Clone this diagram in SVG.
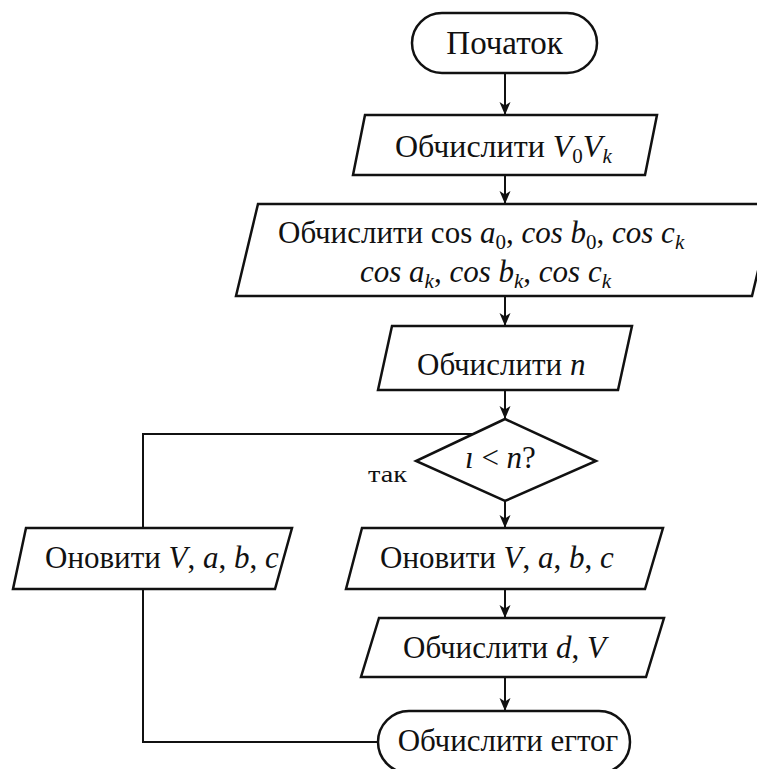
<svg xmlns="http://www.w3.org/2000/svg" width="757" height="769" viewBox="0 0 757 769">
<style>
.shape{fill:#fff;stroke:#111;stroke-width:2.5;stroke-linejoin:miter}
.t{font-family:"Liberation Serif","DejaVu Serif",serif;font-size:31px;fill:#111}
.i{font-style:italic}
.sub{font-size:21px}
.line{fill:none;stroke:#111;stroke-width:2}
</style>
<defs>
<marker id="arr" markerUnits="userSpaceOnUse" markerWidth="14" markerHeight="12" refX="13" refY="6" orient="auto">
<path d="M0,0.5 L13,6 L0,11.5 L3.5,6 z" fill="#111"/>
</marker>
</defs>
<rect width="757" height="769" fill="#fff"/>
<g id="connectors">
<line class="line" x1="505" y1="73" x2="505" y2="115" marker-end="url(#arr)"/>
<line class="line" x1="505" y1="175" x2="505" y2="204" marker-end="url(#arr)"/>
<line class="line" x1="505" y1="296" x2="505" y2="326" marker-end="url(#arr)"/>
<line class="line" x1="505" y1="390" x2="505" y2="419" marker-end="url(#arr)"/>
<line class="line" x1="505" y1="501" x2="505" y2="528" marker-end="url(#arr)"/>
<line class="line" x1="505" y1="589" x2="505" y2="618" marker-end="url(#arr)"/>
<line class="line" x1="505" y1="677" x2="505" y2="711" marker-end="url(#arr)"/>
<polyline class="line" points="378,742 143,742 143,589"/>
<polyline class="line" points="143,528 143,434 472,434"/>
<text class="t" x="368" y="482" textLength="39" lengthAdjust="spacingAndGlyphs" style="font-size:24px">так</text>
</g>
<g id="start">
<rect class="shape" x="412" y="13" width="185" height="60" rx="30" ry="30"/>
<text class="t" x="504.5" y="54" text-anchor="middle" style="font-size:33px">Початок</text>
</g>
<g id="calc-v0vk">
<polygon class="shape" points="365,115 657,115 645,175 353,175"/>
<text class="t" x="395" y="157" style="font-size:32px">Обчислити <tspan class="i">V</tspan><tspan class="sub" dy="6">0</tspan><tspan class="i" dy="-6">V</tspan><tspan class="sub i" dy="6">k</tspan></text>
</g>
<g id="calc-cos">
<polygon class="shape" points="258,204 774,204 752,296 236,296"/>
<text class="t" x="278" y="243">Обчислити cos <tspan class="i">a</tspan><tspan class="sub" dy="6">0</tspan><tspan dy="-6">, </tspan><tspan class="i">cos b</tspan><tspan class="sub" dy="6">0</tspan><tspan dy="-6">, </tspan><tspan class="i">cos c</tspan><tspan class="sub i" dy="6">k</tspan></text>
<text class="t" x="360" y="282"><tspan class="i">cos a</tspan><tspan class="sub i" dy="6">k</tspan><tspan dy="-6">, </tspan><tspan class="i">cos b</tspan><tspan class="sub i" dy="6">k</tspan><tspan dy="-6">, </tspan><tspan class="i">cos c</tspan><tspan class="sub i" dy="6">k</tspan></text>
</g>
<g id="calc-n">
<polygon class="shape" points="392,326 632,326 618,390 378,390"/>
<text class="t" x="417" y="375">Обчислити <tspan class="i">n</tspan></text>
</g>
<g id="decision">
<polygon class="shape" points="505,419 596,461 505,501 416,461"/>
<text class="t" x="465" y="468"><tspan class="i">ı</tspan> &lt; <tspan class="i">n</tspan>?</text>
</g>
<g id="update-left">
<polygon class="shape" points="26,528 292,528 275,589 13,589"/>
<text class="t" x="45" y="568">Оновити <tspan class="i">V</tspan>, <tspan class="i">a</tspan>, <tspan class="i">b</tspan>, <tspan class="i">c</tspan></text>
</g>
<g id="update-right">
<polygon class="shape" points="362,528 663,528 645,589 346,589"/>
<text class="t" x="380" y="568">Оновити <tspan class="i">V</tspan>, <tspan class="i">a</tspan>, <tspan class="i">b</tspan>, <tspan class="i">c</tspan></text>
</g>
<g id="calc-dv">
<polygon class="shape" points="379,618 664,618 646,677 361,677"/>
<text class="t" x="403" y="658">Обчислити <tspan class="i">d</tspan>, <tspan class="i">V</tspan></text>
</g>
<g id="end">
<rect class="shape" x="378" y="711" width="252" height="62" rx="31" ry="31"/>
<text class="t" x="508" y="751" text-anchor="middle">Обчислити егтог</text>
</g>
</svg>
